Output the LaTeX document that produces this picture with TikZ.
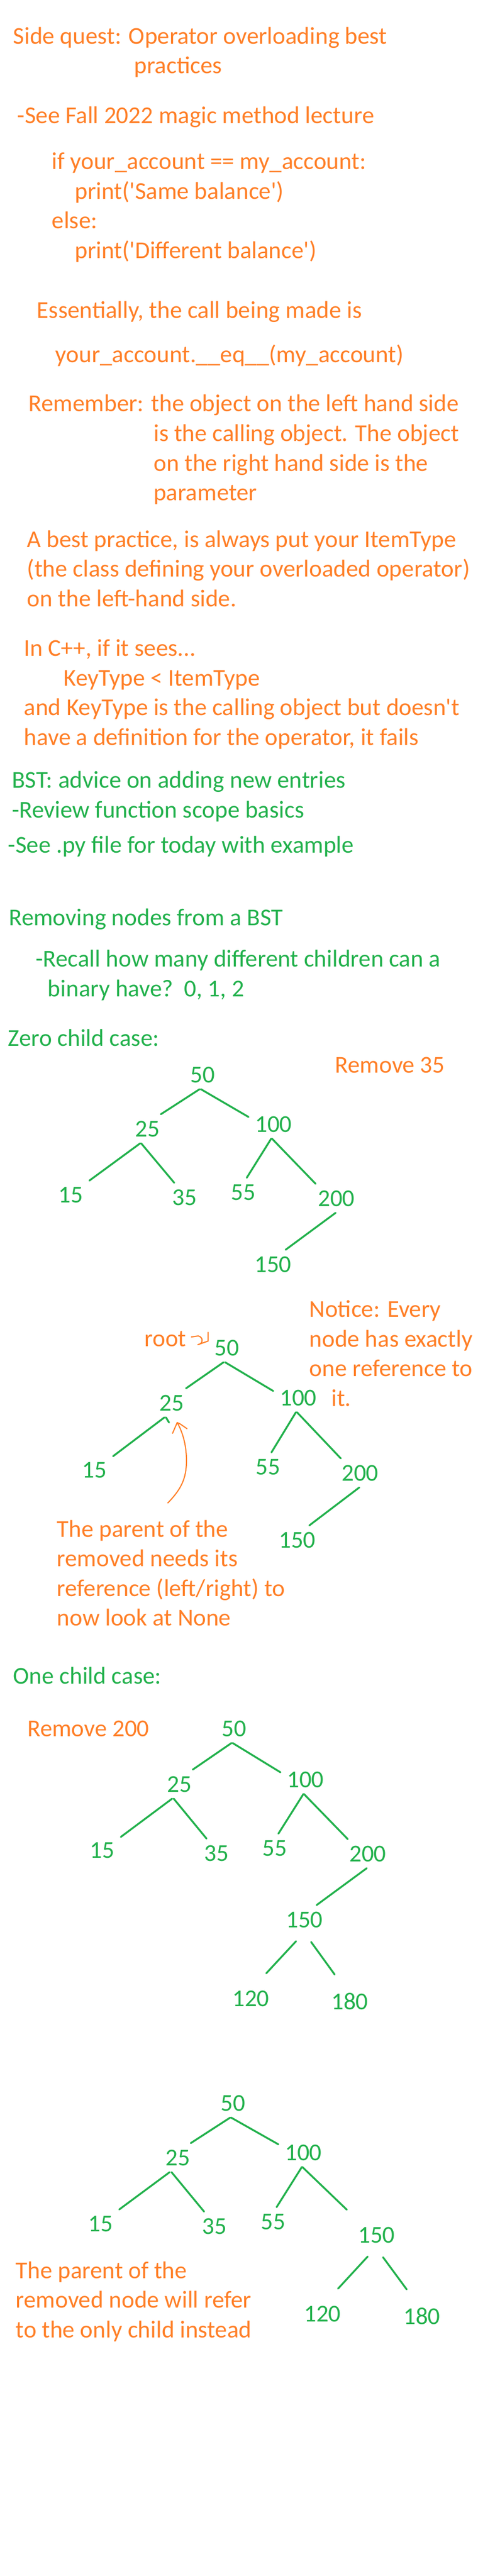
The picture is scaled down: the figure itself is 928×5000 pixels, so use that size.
\documentclass[tikz,border=0pt]{standalone}
\usepackage{fontspec}
\setmainfont{Carlito}[Ligatures=TeXOff]
\usepackage{tikz}
\usepackage{xcolor}
\definecolor{orangeink}{RGB}{255,127,39}
\definecolor{greenink}{RGB}{34,177,76}
\newcommand{\notefont}{\fontsize{11.75}{14.375}\selectfont}

\begin{document}
\begin{tikzpicture}[x=0.25pt, y=-0.25pt,
    note/.style={anchor=base west, inner sep=0pt, align=left, font=\notefont, text=orangeink},
    bstnote/.style={note, text=greenink},
    num/.style={anchor=base, inner sep=3pt, font=\notefont, text=greenink},
    branch/.style={draw=greenink, line width=0.9pt, line cap=round},
    gapbranch/.style={branch, shorten <=4.7pt, shorten >=7pt},
    pen/.style={draw=orangeink, line width=0.55pt, line cap=round, line join=round}]
    \useasboundingbox (0,0) rectangle (928,5000);

    % side quest notes (a note of several lines sits on the baseline of its last line)
    \node[note] (quest) at (25,85) {Side quest: Operator overloading best};
    \node[note] (practices) at (260,142.5) {practices};
    \node[note] (fall) at (33,239) {-See Fall 2022 magic method lecture};
    \node[note] (code) at (100,501) {if your\_account == my\_account:\\\hspace*{11.25pt}print('Same balance')\\else:\\\hspace*{11.25pt}print('Different balance')};
    \node[note] (essential) at (71,617) {Essentially, the call being made is};
    \node[note] (call) at (107,703) {your\_account.\_\_eq\_\_(my\_account)};
    \node[note] (remember) at (55,798.5) {Remember: the object on the left hand side};
    \node[note] (calling) at (297.5,971.5) {is the calling object. The object\\on the right hand side is the\\parameter};
    \node[note] (practice) at (52,1177) {A best practice, is always put your ItemType\\(the class defining your overloaded operator)\\on the left-hand side.};
    \node[note] (cpp) at (46,1446) {In C++, if it sees...\\\hspace*{19.25pt}KeyType < ItemType\\and KeyType is the calling object but doesn't\\have a definition for the operator, it fails};

    % bst notes
    \node[bstnote] (advice) at (22.5,1587) {BST: advice on adding new entries\\-Review function scope basics};
    \node[bstnote] (pyfile) at (15,1655.5) {-See .py file for today with example};
    \node[bstnote] (removing) at (16.5,1796.5) {Removing nodes from a BST};
    \node[bstnote] (recall) at (68.5,1934) {-Recall how many different children can a\\\hspace*{5.9pt}binary have?\ \ 0, 1, 2};
    \node[bstnote] (zero) at (15,2030) {Zero child case:};
    \node[note] (remove35) at (650,2082) {Remove 35};

    % zero child case, before
    \node[num] (a50) at (393,2101) {50};
    \node[num] (a25) at (286,2206) {25};
    \node[num] (a100) at (531,2197) {100};
    \node[num] (a15) at (137,2334) {15};
    \node[num] (a35) at (358,2339) {35};
    \node[num] (a55) at (472,2329) {55};
    \node[num] (a200) at (653,2341) {200};
    \node[num] (a150) at (530,2469) {150};
    \draw[branch] (a50.259) -- (a25.47);    % 50 - 25
    \draw[branch] (a50.264) -- (a100.164);  % 50 - 100
    \draw[branch] (a25.244) -- (a15.37);    % 25 - 15
    \draw[branch] (a25.247) -- (a35.125);   % 25 - 35
    \draw[branch] (a100.261) -- (a55.76);   % 100 - 55
    \draw[branch] (a100.264) -- (a200.145); % 100 - 200
    \draw[branch] (a200.267) -- (a150.49);  % 200 - 150

    % zero child case, after
    \node[note] (notice) at (600,2729) {Notice: Every\\node has exactly\\one reference to\\\hspace*{10.65pt}it.};
    \node[note] (root) at (280,2613) {root};
    \node[num] (b50) at (440,2631) {50};
    \node[num] (b25) at (333,2738) {25};
    \node[num] (b100) at (579,2728) {100};
    \node[num] (b15) at (183,2868) {15};
    \node[num] (b55) at (520,2862) {55};
    \node[num] (b200) at (699,2874) {200};
    \node[num] (b150) at (577,3004) {150};
    \draw[branch] (b50.258) -- (b25.45);    % 50 - 25
    \draw[branch] (b50.264) -- (b100.165);  % 50 - 100
    \draw[branch] (b25.244) -- (b15.36);    % 25 - 15
    \draw[branch] (b25.249) -- ++(6,10);    % what is left of 25 - 35
    \draw[branch] (b100.261) -- (b55.76);   % 100 - 55
    \draw[branch] (b100.265) -- (b200.143); % 100 - 200
    \draw[branch] (b200.267) -- (b150.50);  % 200 - 150
    \draw[pen] ([shift={(9,-18)}]root.base east) -- (385,2593)
        .. controls (396,2596) and (394,2609) .. (384,2610) -- (404,2603) -- (404,2586); % root -> 50
    \node[note] (parentnone) at (110,3155.5) {The parent of the\\removed needs its\\reference (left/right) to\\now look at None};
    \coordinate (tail) at (326,2917);
    \coordinate (tip) at ([shift={(11,10)}]b25.south);
    \draw[pen] (tail) .. controls (350,2892) and (362,2872) .. (362,2835)
        .. controls (362,2800) and (352,2775) .. (tip);
    \draw[pen] (335,2782) -- (tip) -- (350,2764) -- (363,2773);

    % one child case, before
    \node[bstnote] (one) at (25,3268.5) {One child case:};
    \node[note] (remove200) at (52.5,3370) {Remove 200};
    \node[num] (c50) at (454,3370) {50};
    \node[num] (c25) at (348,3478) {25};
    \node[num] (c100) at (593,3469) {100};
    \node[num] (c15) at (198,3606) {15};
    \node[num] (c35) at (420,3612) {35};
    \node[num] (c55) at (533,3602) {55};
    \node[num] (c200) at (714,3613) {200};
    \node[num] (c150) at (591,3741) {150};
    \node[num] (c120) at (487,3894) {120};
    \node[num] (c180) at (679,3900) {180};
    \draw[branch] (c50.261) -- (c25.47);    % 50 - 25
    \draw[branch] (c50.265) -- (c100.164);  % 50 - 100
    \draw[branch] (c25.244) -- (c15.35);    % 25 - 15
    \draw[branch] (c25.249) -- (c35.124);   % 25 - 35
    \draw[branch] (c100.262) -- (c55.75);   % 100 - 55
    \draw[branch] (c100.264) -- (c200.144); % 100 - 200
    \draw[branch] (c200.266) -- (c150.50);  % 200 - 150
    \draw[gapbranch] (c150.263) -- (c120.69); % 150 - 120
    \draw[gapbranch] (c150.274) -- (c180.114); % 150 - 180

    % one child case, after
    \node[num] (d50) at (452,4097) {50};
    \node[num] (d25) at (345,4203) {25};
    \node[num] (d100) at (589,4193) {100};
    \node[num] (d15) at (195,4331) {15};
    \node[num] (d35) at (416,4336) {35};
    \node[num] (d55) at (530,4327) {55};
    \node[num] (d150) at (731,4353) {150};
    \node[num] (d120) at (626,4506) {120};
    \node[num] (d180) at (819,4511) {180};
    \draw[branch] (d50.260) -- (d25.48);    % 50 - 25
    \draw[branch] (d50.263) -- (d100.162);  % 50 - 100
    \draw[branch] (d25.241) -- (d15.37);    % 25 - 15
    \draw[branch] (d25.247) -- (d35.125);   % 25 - 35
    \draw[branch] (d100.264) -- (d55.76);   % 100 - 55
    \draw[branch, shorten >=7.5pt] (d100.266) -- (d150.142); % 100 - 150
    \draw[gapbranch] (d150.261) -- (d120.68); % 150 - 120
    \draw[gapbranch] (d150.273) -- (d180.114); % 150 - 180
    \node[note] (onlychild) at (30,4537) {The parent of the\\removed node will refer\\to the only child instead};
\end{tikzpicture}
\end{document}
